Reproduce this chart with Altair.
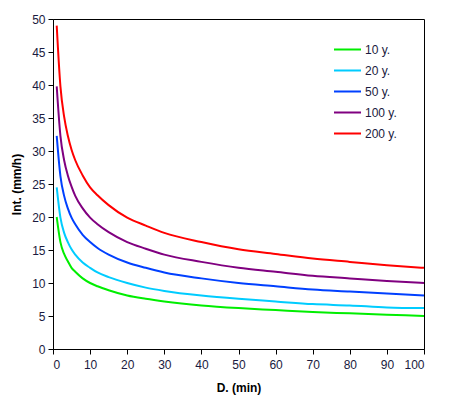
import altair as alt
import pandas as pd

# durations (min) and intensities (mm/h)
durations = [1, 2, 3, 4, 5, 6, 8, 10, 12, 15, 20, 25, 30, 40, 50, 60, 70, 80, 90, 100]
i_10 = [20.0, 16.2, 14.4, 13.3, 12.3, 11.7, 10.7, 10.0, 9.5, 8.9, 8.1, 7.6, 7.2, 6.6, 6.2, 5.9, 5.6, 5.4, 5.2, 5.0]
i_20 = [24.5, 19.9, 17.6, 16.2, 15.1, 14.3, 13.1, 12.3, 11.6, 10.9, 10.0, 9.3, 8.8, 8.1, 7.6, 7.2, 6.8, 6.6, 6.3, 6.2]
i_50 = [32.3, 26.2, 23.2, 21.3, 19.9, 18.9, 17.3, 16.2, 15.3, 14.3, 13.1, 12.3, 11.6, 10.7, 10.0, 9.5, 9.0, 8.7, 8.4, 8.1]
i_100 = [39.8, 32.3, 28.6, 26.3, 24.6, 23.2, 21.3, 19.9, 18.9, 17.7, 16.2, 15.2, 14.3, 13.2, 12.3, 11.7, 11.1, 10.7, 10.3, 10.0]
i_200 = [49.0, 39.8, 35.2, 32.3, 30.2, 28.6, 26.3, 24.5, 23.3, 21.8, 19.9, 18.7, 17.6, 16.2, 15.1, 14.4, 13.7, 13.2, 12.7, 12.3]

series = ["10 y.", "20 y.", "50 y.", "100 y.", "200 y."]
colors = ["#00ee00", "#00ccff", "#0040ff", "#800080", "#ff0000"]

rows = []
for name, vals in zip(series, [i_10, i_20, i_50, i_100, i_200]):
    for d, v in zip(durations, vals):
        rows.append({"D": d, "I": v, "period": name})
df = pd.DataFrame(rows)

text_col = "#1a1a40"

chart = (
    alt.Chart(df)
    .mark_line(strokeWidth=2, interpolate="monotone")
    .encode(
        x=alt.X(
            "D:Q",
            scale=alt.Scale(domain=[0, 100]),
            axis=alt.Axis(title="D. (min)", values=list(range(0, 101, 10)), tickSize=5),
        ),
        y=alt.Y(
            "I:Q",
            scale=alt.Scale(domain=[0, 50]),
            axis=alt.Axis(title="Int. (mm/h)", values=list(range(0, 51, 5)), tickSize=5),
        ),
        color=alt.Color(
            "period:N",
            scale=alt.Scale(domain=series, range=colors),
            legend=alt.Legend(
                title=None,
                orient="none",
                legendX=280,
                legendY=20,
                symbolType="stroke",
                symbolSize=729,
                symbolStrokeWidth=2,
                clipHeight=21,
                rowPadding=0,
                labelFontSize=12,
                labelColor=text_col,
                labelFont="Liberation Sans",
                labelOffset=3,
            ),
        ),
        detail="period:N",
    )
    .properties(
        width=371,
        height=330,
        autosize=alt.AutoSizeParams(type="none"),
        padding={"left": 45, "top": 11, "right": 17, "bottom": 54},
    )
    .configure_view(stroke="black", strokeWidth=1)
    .configure_axis(
        grid=False,
        domainColor="black",
        tickColor="black",
        labelFont="Liberation Sans",
        labelFontSize=12,
        labelColor=text_col,
        titleFont="Liberation Sans",
        titleFontSize=12,
        titleFontWeight="bold",
        titleColor="black",
    )
    .configure_axisX(titlePadding=12, labelPadding=5)
    .configure_axisY(titlePadding=8, labelPadding=3)
)

chart.save("out.html", embed_options={"renderer": "svg", "actions": False})
